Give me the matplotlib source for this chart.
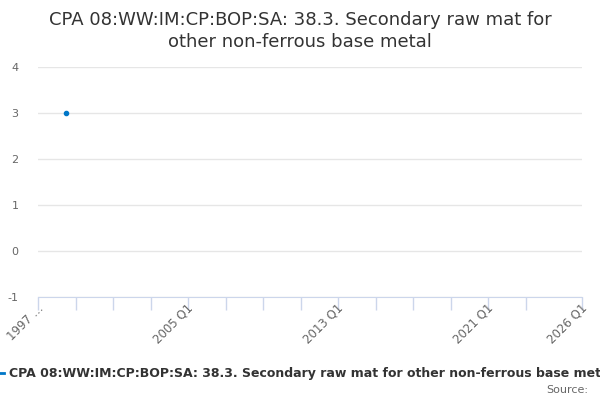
import matplotlib
matplotlib.use("Agg")
import matplotlib.pyplot as plt

plt.rcParams["axes.unicode_minus"] = False

# quarters counted from 1997 Q1
quarter_index = [6]
values = [3]
tick_labels = ["1997 \u2026", "2005 Q1", "2013 Q1", "2021 Q1", "2026 Q1"]
label_pos = [0, 32, 64, 96, 116]
minor_pos = [0, 8, 16, 24, 32, 40, 48, 56, 64, 72, 80, 88, 96, 104, 116]
yticks = [-1, 0, 1, 2, 3, 4]

title = "CPA 08:WW:IM:CP:BOP:SA: 38.3. Secondary raw mat for\nother non-ferrous base metal"
series_name = "CPA 08:WW:IM:CP:BOP:SA: 38.3. Secondary raw mat for other non-ferrous base metal"

fig = plt.figure(figsize=(6, 4), dpi=100)
ax = fig.add_axes([38/600, 1-297/400, (582-38)/600, (297-67)/400])

ax.plot(quarter_index, values, "o", color="#0077c8", markersize=3)

ax.set_xlim(0, 116)
ax.set_ylim(-1, 4)
ax.set_yticks(yticks)
ax.grid(axis="y", color="#e6e6e6", linewidth=1)
ax.set_axisbelow(True)
for s in ["top", "right", "left"]:
    ax.spines[s].set_visible(False)
ax.spines["bottom"].set_color("#ccd6eb")
ax.tick_params(axis="y", length=0, labelsize=8, labelcolor="#666666", pad=14)

ax.set_xticks(minor_pos)
ax.set_xticklabels([""]*len(minor_pos))
ax.tick_params(axis="x", length=9, color="#ccd6eb", width=1)
for p, t in zip(label_pos, tick_labels):
    ax.text(p + 0.7, -1.2, t, rotation=45, ha="right", va="center", fontsize=8.5,
            color="#666666", rotation_mode="anchor")

fig.text(0.5, 1-31/400, title, ha="center", va="center", fontsize=13,
         color="#333333", linespacing=1.3)

fig.lines.append(plt.Line2D([0, 4/600], [1-373/400]*2, color="#0077c8",
                            linewidth=2, transform=fig.transFigure))
fig.text(9/600, 1-373/400, series_name, ha="left", va="center", fontsize=9,
         fontweight="bold", color="#333333")
fig.text(588/600, 1-390/400, "Source:", ha="right", va="center", fontsize=8,
         color="#666666")

fig.savefig("out.png", dpi=100)
